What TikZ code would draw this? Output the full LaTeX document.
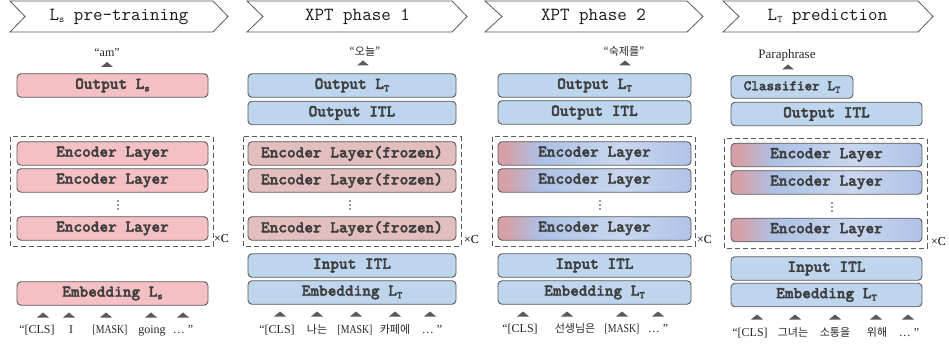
\documentclass[tikz,border=0pt]{standalone}
\usepackage{fontspec}
\setmainfont{Liberation Serif}
\newfontfamily\krfont{Noto Sans CJK KR}
\newfontfamily\boxfont{lmmonolt10-bold.otf}[FakeBold=2.2]
\newfontfamily\mskfont{Liberation Serif}[FakeStretch=0.82]
\definecolor{pinkf}{RGB}{245,192,196}
\definecolor{bluef}{RGB}{190,214,237}
\definecolor{frozf}{RGB}{226,190,190}
\definecolor{bdr}{RGB}{90,90,90}
\definecolor{txt}{RGB}{62,62,62}
\definecolor{gp}{RGB}{214,160,168}
\definecolor{gb}{RGB}{172,193,229}
\definecolor{gl}{RGB}{200,215,238}
\definecolor{gr}{RGB}{176,195,231}
\pgfdeclarehorizontalshading{encgrad}{100bp}{color(0bp)=(gp); color(25bp)=(gp); color(27bp)=(gp); color(36bp)=(gb); color(57bp)=(gl); color(75bp)=(gr); color(100bp)=(gr)}
\newcommand\sbs[1]{\raisebox{-2.5pt}{\fontsize{10}{10}\selectfont #1}}
\newcommand\tri[1]{\fill[bdr] (#1) ++(-6,2.5) -- ++(12,0) -- ++(-6,-5) -- cycle;}
\newcommand\vdt[1]{\fill[black!80] (#1) ++(0,-4) circle (0.8) ++(0,4) circle (0.8) ++(0,4) circle (0.8);}
\tikzset{
 lay/.style={draw=bdr, line width=0.9pt, rounded corners=4pt, inner sep=0pt, text=txt,
   font=\boxfont\fontsize{16.5}{18}\selectfont, minimum height=23.5pt},
 pk/.style={lay, fill=pinkf},
 bl/.style={lay, fill=bluef},
 fz/.style={lay, fill=frozf},
 gd/.style={lay, shade, shading=encgrad},
 grp/.style={draw=bdr, dash pattern=on 5pt off 3pt, line width=1pt},
 ban/.style={draw=bdr, line width=0.8pt, fill=white, line join=miter},
 bantxt/.style={font=\ttfamily\fontsize{18.5}{20}\selectfont, inner sep=0pt, text=black!90},
 tok/.style={font=\fontsize{12}{13}\selectfont, inner sep=0pt, anchor=base, text=black!85},
 msk/.style={tok, font=\mskfont\fontsize{12}{13}\selectfont},
 krtok/.style={font=\krfont\fontsize{11}{12}\selectfont, inner sep=0pt, anchor=base, text=black!85},
 xc/.style={font=\fontsize{12}{13}\selectfont, inner sep=0pt, anchor=base west}
}
\begin{document}
\begin{tikzpicture}[x=1pt,y=-1pt]
\useasboundingbox[fill=white] (0,0) rectangle (949,347);
% ---------- banners ----------
\draw[ban] (10,1) -- (213,1) -- (228,16.5) -- (213,32) -- (10,32) -- (25,16.5) -- cycle;
\node[bantxt] (b1) at (119,16.5) {L\sbs{s} pre-training};
\draw[ban] (247,1) -- (452,1) -- (467,16.5) -- (452,32) -- (247,32) -- (263,16.5) -- cycle;
\node[bantxt] (b2) at (357.5,16.5) {XPT phase 1};
\draw[ban] (485,1) -- (687,1) -- (703,16.5) -- (687,32) -- (485,32) -- (502,16.5) -- cycle;
\node[bantxt] (b3) at (593.5,16.5) {XPT phase 2};
\draw[ban] (723,1) -- (918,1) -- (933,16.5) -- (918,32) -- (723,32) -- (739,16.5) -- cycle;
\node[bantxt] (b4) at (827.5,16.5) {L\sbs{T} prediction};

% ---------- panel 1 ----------
\node[tok] (l1) at (107,57) {“am”};
\tri{107,64.5}
\node[pk, minimum width=191] (p1out) at (112.5,85.5) {Output L\sbs{s}};
\draw[grp] (10,137) rectangle (213,246);
\node[pk, minimum width=191] (p1e1) at (112.5,153.5) {Encoder Layer};
\node[pk, minimum width=191] (p1e2) at (112.5,180.5) {Encoder Layer};
\vdt{118,205}
\node[pk, minimum width=191] (p1e3) at (112.5,228.5) {Encoder Layer};
\node[xc] (p1x) at (214,242) {×C};
\node[pk, minimum width=191] (p1emb) at (112.5,293.5) {Embedding L\sbs{s}};
\tri{43,315}\tri{69,315}\tri{106,315}\tri{151,315}\tri{183,315}
\node[tok] (t11) at (37,333) {“[CLS]};
\node[tok] (t12) at (71,333) {I};
\node[msk] (t13) at (110,333) {[MASK]};
\node[tok] (t14) at (152,333) {going};
\node[tok] (t15) at (183,333) {… ”};

% ---------- panel 2 ----------
\node[krtok] (l2) at (365,56) {“오늘”};
\tri{363,63}
\node[bl, minimum width=208] (p2out) at (352,85.5) {Output L\sbs{T}};
\node[bl, minimum width=208] (p2itl) at (352,113) {Output ITL};
\draw[grp] (243,137) rectangle (461,246);
\node[fz, minimum width=208] (p2e1) at (352,153.5) {Encoder Layer(frozen)};
\node[fz, minimum width=208] (p2e2) at (352,180.5) {Encoder Layer(frozen)};
\vdt{350,205}
\node[fz, minimum width=208] (p2e3) at (352,228.5) {Encoder Layer(frozen)};
\node[xc] (p2x) at (464,243) {×C};
\node[bl, minimum width=208] (p2in) at (352,265.5) {Input ITL};
\node[bl, minimum width=208] (p2emb) at (352,292.5) {Embedding L\sbs{T}};
\tri{280,314}\tri{317,314}\tri{356,314}\tri{395,314}\tri{430,314}
\node[tok] (t21) at (277,333) {“[CLS]};
\node[krtok] (t22) at (317,333) {나는};
\node[msk] (t23) at (355,333) {[MASK]};
\node[krtok] (t24) at (395,333) {카페에};
\node[tok] (t25) at (432,333) {… ”};

% ---------- panel 3 ----------
\node[krtok] (l3) at (624,56) {“숙제를”};
\tri{625,63}
\node[bl, minimum width=193] (p3out) at (594.5,85.5) {Output L\sbs{T}};
\node[bl, minimum width=193] (p3itl) at (594.5,112.5) {Output ITL};
\draw[grp] (492,137) rectangle (695,246);
\node[gd, minimum width=193] (p3e1) at (594.5,153.5) {Encoder Layer};
\node[gd, minimum width=193] (p3e2) at (594.5,180.5) {Encoder Layer};
\vdt{600,205}
\node[gd, minimum width=193] (p3e3) at (594.5,228.5) {Encoder Layer};
\node[xc] (p3x) at (697,243) {×C};
\node[bl, minimum width=193] (p3in) at (594.5,265.5) {Input ITL};
\node[bl, minimum width=193] (p3emb) at (594.5,292.5) {Embedding L\sbs{T}};
\tri{523,314}\tri{567,314}\tri{622,314}\tri{658,314}
\node[tok] (t31) at (520,332) {“[CLS]};
\node[krtok] (t32) at (575,332) {선생님은};
\node[msk] (t33) at (622,332) {[MASK]};
\node[tok] (t34) at (658,332) {… ”};

% ---------- panel 4 ----------
\node[tok, font=\fontsize{13}{14}\selectfont] (l4) at (787,59) {Paraphrase};
\tri{788,67}
\node[bl, minimum width=122, minimum height=22.5pt, font=\boxfont\fontsize{14.5}{15}\selectfont] (p4cls) at (792,87) {Classifier L\sbs{T}};
\node[bl, minimum width=191] (p4itl) at (826.5,114) {Output ITL};
\draw[grp] (724,139) rectangle (927,248);
\node[gd, minimum width=191] (p4e1) at (826.5,155) {Encoder Layer};
\node[gd, minimum width=191] (p4e2) at (826.5,182.5) {Encoder Layer};
\vdt{832,207}
\node[gd, minimum width=191] (p4e3) at (826.5,230) {Encoder Layer};
\node[xc] (p4x) at (931,245) {×C};
\node[bl, minimum width=191] (p4in) at (826.5,268.5) {Input ITL};
\node[bl, minimum width=191] (p4emb) at (826.5,295) {Embedding L\sbs{T}};
\tri{757,317}\tri{795,317}\tri{835,317}\tri{876,317}\tri{908,317}
\node[tok] (t41) at (750,336) {“[CLS]};
\node[krtok] (t42) at (793,336) {그녀는};
\node[krtok] (t43) at (835,336) {소통을};
\node[krtok] (t44) at (877,336) {위해};
\node[tok] (t45) at (909,336) {… ”};
\end{tikzpicture}
\end{document}
